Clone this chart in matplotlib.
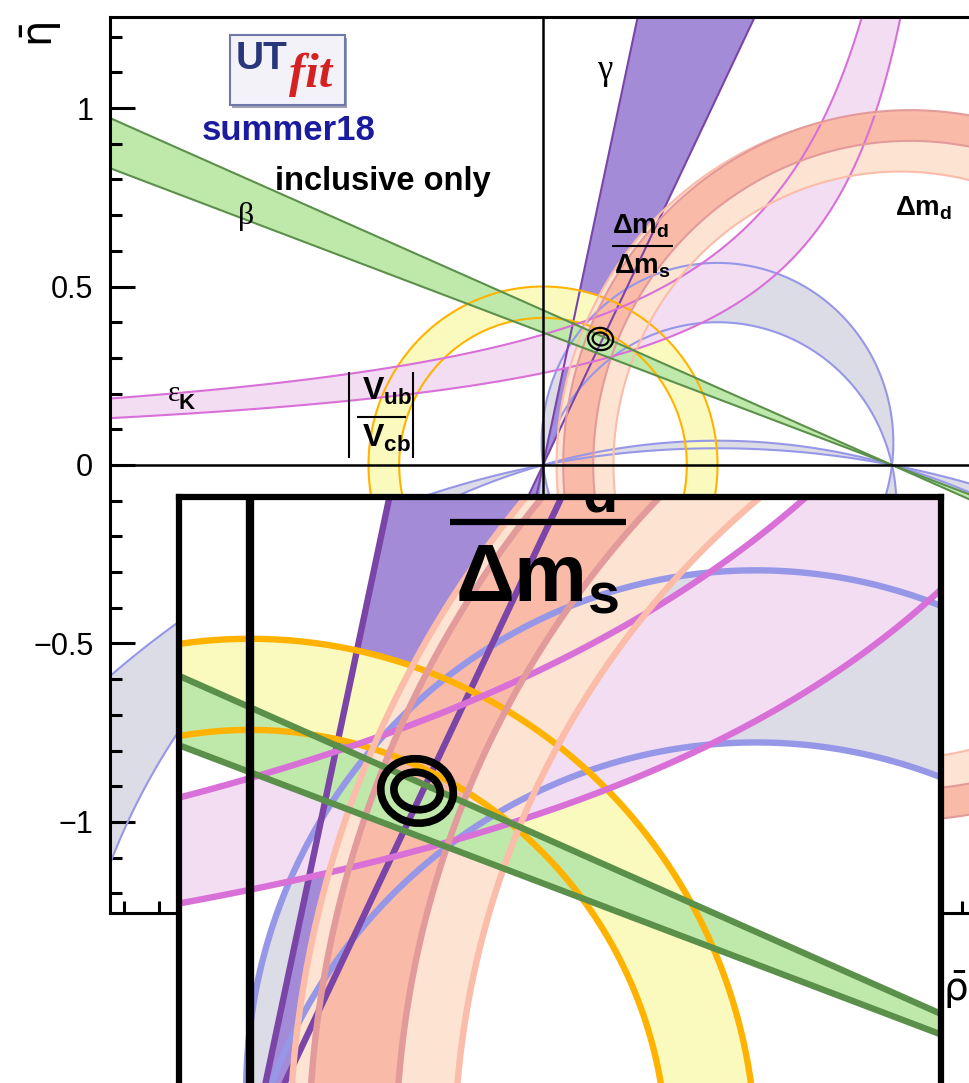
import numpy as np
import matplotlib
matplotlib.use("Agg")
import matplotlib.pyplot as plt
from matplotlib.patches import Ellipse, Rectangle
from matplotlib.ticker import FixedLocator, MultipleLocator

plt.rcParams['font.family'] = ['Liberation Sans', 'DejaVu Sans']
plt.rcParams['mathtext.fontset'] = 'custom'
plt.rcParams['mathtext.rm'] = 'Liberation Sans'
plt.rcParams['mathtext.bf'] = 'Liberation Sans:bold'
plt.rcParams['mathtext.it'] = 'Liberation Sans:italic'

# allowed ranges of each constraint in the (rho-bar, eta-bar) plane
beta_deg = [20.36, 23.45]
gamma_deg = [64.2, 77.8]
alpha_deg_a = [82.9, 102.7]
alpha_deg_b = [164.5, 169.3]
vub_radius = [0.412, 0.500]
epsk_a = 1.289
epsk_c = [0.332, 0.471]
dmd_center = 1.052
dmd_radius = [0.908, 0.994]
dmd_dms_center = 1.024
dmd_dms_radius = [0.822, 0.985]

# fit result: apex and 68% / 95% contour half-axes
apex_rho, apex_eta = 0.165, 0.353
contour_half_axes = [(0.036, 0.031), (0.023, 0.018)]

# axis ticks
y_tick_vals = [-1, -0.5, 0, 0.5, 1]
y_tick_labels = ['\u22121', '\u22120.5', '0', '0.5', '1']
x_tick_vals = [-1, -0.5, 0, 0.5, 1]

main_xlim = (-1.2407, 1.2407)
main_ylim = (-1.255, 1.255)
zoom_xlim = (-0.0702, 0.6828)
zoom_ylim = (0.0544, 0.637)

bands = [
    ('alpha', alpha_deg_a, '#dcdce6', '#9797e8'),
    ('alpha', alpha_deg_b, '#dcdce6', '#9797e8'),
    ('gamma', gamma_deg, '#a48bd8', '#7b45a8'),
    ('vub', vub_radius, '#fafabf', '#ffb300'),
    ('epsk', epsk_c, '#f3ddf3', '#d870d8'),
    ('dmd_dms', dmd_dms_radius, '#fde3d2', '#fbbca9'),
    ('dmd', dmd_radius, '#f9bba8', '#e39a9b'),
    ('beta', beta_deg, '#bfe9aa', '#5b904b'),
]


def constraint_fields(r, e):
    g = np.degrees(np.arctan2(e, r))
    b = np.degrees(np.arctan2(e, 1 - r))
    return {
        'gamma': g % 180,
        'beta': b % 180,
        'alpha': (180 - b - g) % 180,
        'vub': np.hypot(r, e),
        'epsk': e * (epsk_a - r),
        'dmd': np.hypot(r - dmd_center, e),
        'dmd_dms': np.hypot(r - dmd_dms_center, e),
    }


def half_grids(xlim, ylim, nx, ny):
    # upper and lower half-planes are gridded apart so the angles never wrap inside a grid
    xs = np.linspace(xlim[0], xlim[1], nx)
    out = []
    if ylim[1] > 0:
        ys = np.linspace(max(ylim[0], 1e-9), ylim[1], ny)
        out.append(np.meshgrid(xs, ys))
    if ylim[0] < 0:
        ys = np.linspace(ylim[0], min(ylim[1], -1e-9), ny)
        out.append(np.meshgrid(xs, ys))
    return out


def draw_constraints(ax, xlim, ylim, lw, nx, ny):
    for rr, ee in half_grids(xlim, ylim, nx, ny):
        f = constraint_fields(rr, ee)
        for key, rng, fill, edge in bands:
            ax.contourf(rr, ee, f[key], levels=rng, colors=[fill], zorder=1)
        for key, rng, fill, edge in bands:
            ax.contour(rr, ee, f[key], levels=rng, colors=[edge], linewidths=lw, zorder=2)


def draw_apex(ax, lw):
    for a, b in contour_half_axes:
        ax.add_patch(Ellipse((apex_rho, apex_eta), 2 * a, 2 * b, angle=-10,
                             fill=False, edgecolor='black', lw=lw, zorder=4))


def draw_ratio_label(ax, size, lw, top_base):
    ax.text(0.198, top_base, r'$\mathbf{\Delta m}_{\mathbf{d}}$', fontsize=size,
            ha='left', va='baseline', zorder=5, clip_on=True)
    ax.plot([0.198, 0.372], [0.613, 0.613], color='black', lw=lw, zorder=5,
            solid_capstyle='butt')
    ax.text(0.203, 0.536, r'$\mathbf{\Delta m}_{\mathbf{s}}$', fontsize=size,
            ha='left', va='baseline', zorder=5, clip_on=True)


fig = plt.figure(figsize=(9.69, 10.83), dpi=100)

# ---- main unitarity triangle plane ----
ax = fig.add_axes([110 / 969, 1 - 913 / 1083, 866 / 969, 896 / 1083])
ax.set_xlim(main_xlim)
ax.set_ylim(main_ylim)
draw_constraints(ax, main_xlim, main_ylim, 1.5, 1100, 560)
ax.axhline(0, color='black', lw=1.8, zorder=3)
ax.axvline(0, color='black', lw=1.8, zorder=3)
draw_apex(ax, 1.6)

for side in ['left', 'bottom', 'top', 'right']:
    ax.spines[side].set_linewidth(2.2)
ax.yaxis.set_major_locator(FixedLocator(y_tick_vals))
ax.set_yticklabels(y_tick_labels)
ax.yaxis.set_minor_locator(MultipleLocator(0.1))
ax.xaxis.set_major_locator(FixedLocator(x_tick_vals))
ax.xaxis.set_minor_locator(MultipleLocator(0.1))
ax.tick_params(which='both', direction='in', width=2.2, top=False, right=False)
ax.tick_params(which='major', length=18)
ax.tick_params(which='minor', length=8.5)
ax.tick_params(axis='y', labelsize=22, pad=12)
ax.tick_params(axis='x', labelbottom=False)

# UTfit badge
ax.add_patch(Rectangle((-0.891, 1.000), 0.33, 0.196, facecolor='#a0a0b8',
                       edgecolor='none', zorder=5))
ax.add_patch(Rectangle((-0.897, 1.008), 0.33, 0.196, facecolor='#f4f2f9',
                       edgecolor='#6f78a8', lw=1.5, zorder=5))
ax.text(-0.880, 1.110, 'UT', color='#27377a', fontsize=28, fontweight='bold',
        ha='left', va='baseline', zorder=6)
ax.text(-0.727, 1.058, 'fit', family='Liberation Serif', style='italic',
        fontweight='bold', color='#d42222', fontsize=35, ha='left',
        va='baseline', zorder=6)
ax.text(-0.728, 0.910, 'summer18', color='#1b1ba0', fontsize=25,
        fontweight='bold', ha='center', va='baseline', zorder=6)
ax.text(-0.768, 0.770, 'inclusive only', color='black', fontsize=23.5,
        fontweight='bold', ha='left', va='baseline', zorder=6)

# constraint names
ax.text(-0.851, 0.697, '\u03b2', family='Liberation Serif', fontsize=23,
        ha='center', va='center', zorder=6)
ax.text(0.178, 1.106, '\u03b3', family='Liberation Serif', fontsize=25,
        ha='center', va='center', zorder=6)
ax.text(-1.057, 0.199, '\u03b5', family='Liberation Serif', fontsize=21,
        ha='center', va='center', zorder=6)
ax.text(-1.020, 0.171, 'K', fontsize=16, fontweight='bold',
        ha='center', va='center', zorder=6)
ax.text(1.009, 0.700, r'$\mathbf{\Delta m}_{\mathbf{d}}$', fontsize=20,
        ha='left', va='baseline', zorder=6)
draw_ratio_label(ax, 20, 1.5, 0.648)

ax.text(-0.519, 0.182, r'$\mathbf{V}_{\mathbf{ub}}$', fontsize=23,
        ha='left', va='baseline', zorder=6)
ax.text(-0.519, 0.050, r'$\mathbf{V}_{\mathbf{cb}}$', fontsize=23,
        ha='left', va='baseline', zorder=6)
ax.plot([-0.530, -0.395], [0.134, 0.134], color='black', lw=1.5, zorder=6)
for xb in [-0.556, -0.372]:
    ax.plot([xb, xb], [0.022, 0.258], color='black', lw=1.5, zorder=6)

fig.text(41 / 969, 1 - 35 / 1083, r'$\bar{\mathrm{\eta}}$', fontsize=30,
         rotation=90, ha='center', va='center', math_fontfamily='dejavusans')
fig.text(943 / 969, 1 - 990 / 1083, r'$\bar{\mathrm{\rho}}$', fontsize=28,
         ha='left', va='center', math_fontfamily='dejavusans')

# ---- magnified view around the apex ----
axz = fig.add_axes([179 / 969, 1 - 1100 / 1083, 762 / 969, 603 / 1083], zorder=3)
axz.set_xlim(zoom_xlim)
axz.set_ylim(zoom_ylim)
axz.set_facecolor('white')
draw_constraints(axz, zoom_xlim, zoom_ylim, 4.6, 900, 700)
axz.axvline(0, color='black', lw=6, zorder=3)
draw_apex(axz, 5.5)
draw_ratio_label(axz, 59, 4.5, 0.634)
axz.set_xticks([])
axz.set_yticks([])
for side in axz.spines:
    axz.spines[side].set_linewidth(4.5)

fig.savefig('out.png', dpi=100)
